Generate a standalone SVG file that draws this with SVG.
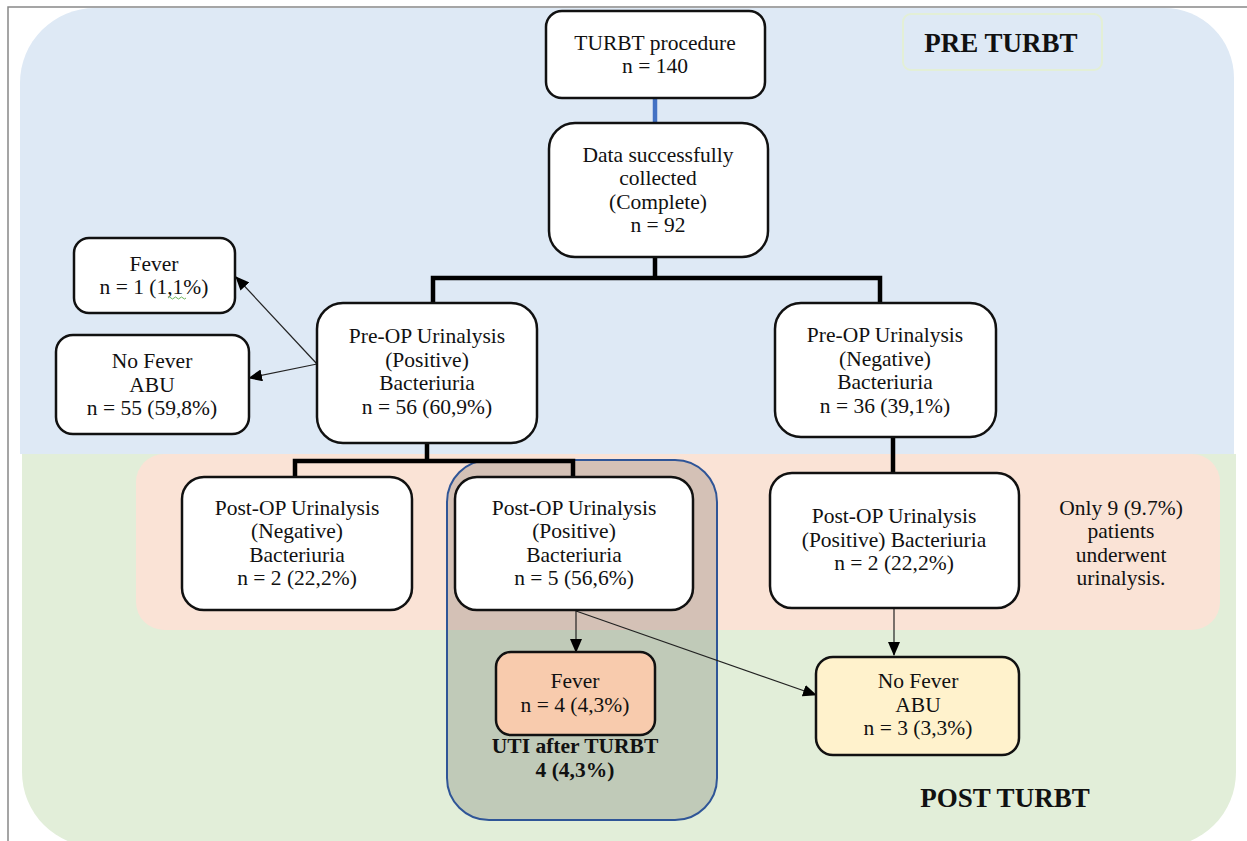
<svg xmlns="http://www.w3.org/2000/svg" width="1247" height="841" viewBox="0 0 1247 841">
<style>
.tx{font-family:"Liberation Serif","Times New Roman",serif;font-size:21.5px;fill:#111;text-anchor:middle}
.bd{font-weight:bold}
.lab{font-family:"Liberation Serif","Times New Roman",serif;font-size:27px;font-weight:bold;fill:#111;text-anchor:middle}
.box{fill:#fff;stroke:#111;stroke-width:2.5}
.thick{stroke:#000;stroke-width:4.5;fill:none}
.thin{stroke:#222;stroke-width:1.2;fill:none}
</style>
<defs>
<marker id="ah" markerUnits="userSpaceOnUse" markerWidth="14" markerHeight="12" refX="13" refY="6" orient="auto">
<path d="M0,0 L14,6 L0,12 Z" fill="#000"/>
</marker>
</defs>
<rect width="1247" height="841" fill="#fff"/>
<path d="M8,841 V7 H1247" fill="none" stroke="#888" stroke-width="1.5"/>
<g id="regions">
<path d="M20,454 V83 A75,75 0 0 1 95,8 H1164 A70,70 0 0 1 1234,78 V454 Z" fill="#DEE9F5"/>
<path d="M22,454 H1236 V772 A75,75 0 0 1 1161,847 H97 A75,75 0 0 1 22,772 Z" fill="#E2EED9"/>
<rect x="136" y="454" width="1084" height="176" rx="28" fill="#FAE3D6"/>
<rect x="447" y="460" width="270" height="360" rx="42" fill="#000" fill-opacity="0.15" stroke="#2F5597" stroke-width="2"/>
</g>
<g id="pre-label">
<rect x="903" y="14" width="199" height="56" rx="8" fill="none" stroke="#E3EFD6" stroke-width="2"/>
<text class="lab" x="1001" y="52">PRE TURBT</text>
</g>
<g id="post-label"><text class="lab" x="1005" y="807">POST TURBT</text></g>
<g id="connectors">
<line x1="655" y1="98" x2="655" y2="123" stroke="#4472C4" stroke-width="4.5"/>
<path class="thick" d="M655,257 V278 M433,302 V278 H880 V303"/>
<path class="thick" d="M427,443 V461 M295,477 V461 H573 V477"/>
<path class="thick" d="M893,437 V473"/>
<line class="thin" x1="317" y1="364" x2="236" y2="277" marker-end="url(#ah)"/>
<line class="thin" x1="317" y1="364" x2="249" y2="378" marker-end="url(#ah)"/>
<line class="thin" x1="576" y1="611" x2="576" y2="652" marker-end="url(#ah)"/>
<line class="thin" x1="576" y1="611" x2="816" y2="695" marker-end="url(#ah)"/>
<line class="thin" x1="894" y1="609" x2="894" y2="655" marker-end="url(#ah)"/>
</g>
<g id="n-turbt">
<rect class="box" x="546" y="11" width="219" height="87" rx="16"/>
<text class="tx" x="655" y="50">TURBT procedure</text>
<text class="tx" x="655" y="73">n = 140</text>
</g>
<g id="n-data">
<rect class="box" x="549" y="123" width="219" height="134" rx="26"/>
<text class="tx" x="658" y="162">Data successfully</text>
<text class="tx" x="658" y="185">collected</text>
<text class="tx" x="658" y="209">(Complete)</text>
<text class="tx" x="658" y="232">n = 92</text>
</g>
<g id="n-fever1">
<rect class="box" x="74" y="238" width="161" height="75" rx="15"/>
<text class="tx" x="154" y="271">Fever</text>
<text class="tx" x="154" y="294">n = 1 (1,1%)</text>
<path d="M168,298 q1.5,-2 3,0 t3,0 t3,0 t3,0 t3,0 t3,0" fill="none" stroke="#5BAA4A" stroke-width="0.9"/>
</g>
<g id="n-nofever1">
<rect class="box" x="56" y="335" width="193" height="99" rx="17"/>
<text class="tx" x="152" y="368">No Fever</text>
<text class="tx" x="152" y="392">ABU</text>
<text class="tx" x="152" y="415">n = 55 (59,8%)</text>
</g>
<g id="n-prepos">
<rect class="box" x="317" y="303" width="220" height="140" rx="26"/>
<text class="tx" x="427" y="343">Pre-OP Urinalysis</text>
<text class="tx" x="427" y="367">(Positive)</text>
<text class="tx" x="427" y="390">Bacteriuria</text>
<text class="tx" x="427" y="414">n = 56 (60,9%)</text>
</g>
<g id="n-preneg">
<rect class="box" x="775" y="303" width="221" height="134" rx="26"/>
<text class="tx" x="885" y="342">Pre-OP Urinalysis</text>
<text class="tx" x="885" y="366">(Negative)</text>
<text class="tx" x="885" y="389">Bacteriuria</text>
<text class="tx" x="885" y="413">n = 36 (39,1%)</text>
</g>
<g id="n-postneg">
<rect class="box" x="182" y="477" width="230" height="133" rx="22"/>
<text class="tx" x="297" y="515">Post-OP Urinalysis</text>
<text class="tx" x="297" y="538">(Negative)</text>
<text class="tx" x="297" y="562">Bacteriuria</text>
<text class="tx" x="297" y="585">n = 2 (22,2%)</text>
</g>
<g id="n-postpos">
<rect class="box" x="455" y="477" width="238" height="133" rx="22"/>
<text class="tx" x="574" y="515">Post-OP Urinalysis</text>
<text class="tx" x="574" y="538">(Positive)</text>
<text class="tx" x="574" y="562">Bacteriuria</text>
<text class="tx" x="574" y="585">n = 5 (56,6%)</text>
</g>
<g id="n-postpos2">
<rect class="box" x="770" y="473" width="249" height="135" rx="22"/>
<text class="tx" x="894" y="523">Post-OP Urinalysis</text>
<text class="tx" x="894" y="547">(Positive) Bacteriuria</text>
<text class="tx" x="894" y="570">n = 2 (22,2%)</text>
</g>
<g id="n-only9">
<text class="tx" x="1121" y="515">Only 9 (9.7%)</text>
<text class="tx" x="1121" y="538">patients</text>
<text class="tx" x="1121" y="562">underwent</text>
<text class="tx" x="1121" y="585">urinalysis.</text>
</g>
<g id="n-fever2">
<rect class="box" x="496" y="652" width="159" height="83" rx="15" style="fill:#F8CBAD"/>
<text class="tx" x="575" y="688">Fever</text>
<text class="tx" x="575" y="712">n = 4 (4,3%)</text>
</g>
<g id="n-uti">
<text class="tx bd" x="575" y="753">UTI after TURBT</text>
<text class="tx bd" x="575" y="777">4 (4,3%)</text>
</g>
<g id="n-nofever2">
<rect class="box" x="816" y="657" width="203" height="98" rx="17" style="fill:#FFF2CC"/>
<text class="tx" x="918" y="688">No Fever</text>
<text class="tx" x="918" y="712">ABU</text>
<text class="tx" x="918" y="735">n = 3 (3,3%)</text>
</g>
</svg>
